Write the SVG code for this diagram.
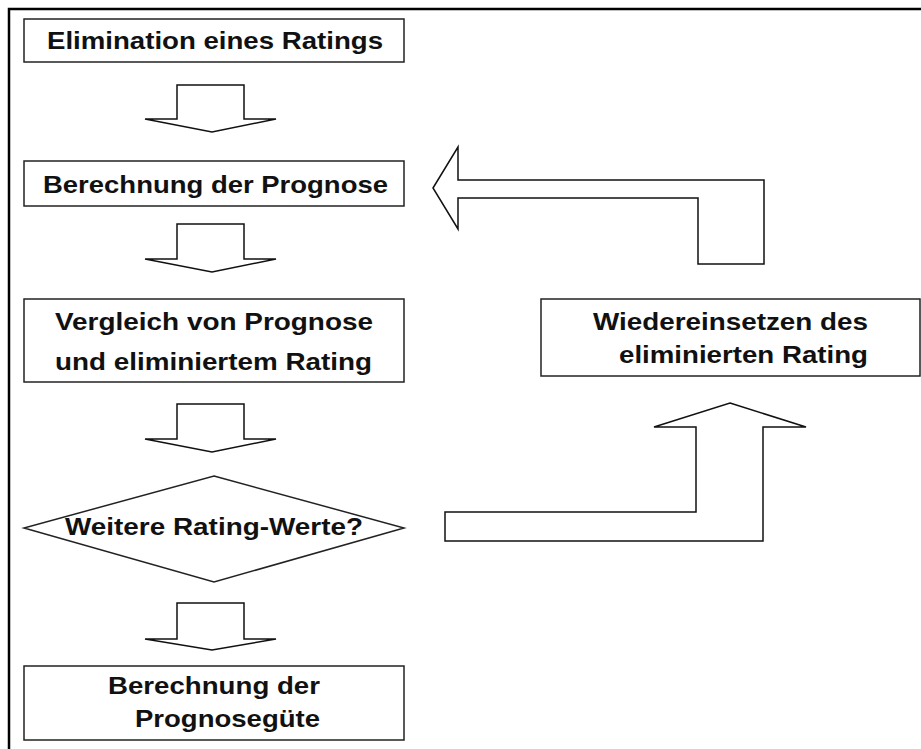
<svg xmlns="http://www.w3.org/2000/svg" width="921" height="749" viewBox="0 0 921 749">
  <style>
    .box { fill: #fff; stroke: #222; stroke-width: 1.5; }
    .arrow { fill: #fff; stroke: #111; stroke-width: 1.5; stroke-linejoin: miter; }
    .frame { stroke: #000; stroke-width: 2.5; fill: none; }
    .lbl { font-family: "Liberation Sans", Arial, sans-serif; font-weight: bold; font-size: 24.5px; fill: #111; }
  </style>
  <rect width="921" height="749" fill="#fff"/>

  <!-- outer frame -->
  <path class="frame" d="M9 749 V9 H921"/>

  <g id="n-elimination">
    <rect class="box" x="24" y="19" width="380" height="43"/>
    <text class="lbl" x="47" y="49" textLength="336" lengthAdjust="spacingAndGlyphs">Elimination eines Ratings</text>
  </g>

  <g id="n-berechnung">
    <rect class="box" x="24" y="161" width="380" height="45"/>
    <text class="lbl" x="43" y="193" textLength="345" lengthAdjust="spacingAndGlyphs">Berechnung der Prognose</text>
  </g>

  <g id="n-vergleich">
    <rect class="box" x="24" y="299" width="380" height="83"/>
    <text class="lbl" x="55" y="330" textLength="318" lengthAdjust="spacingAndGlyphs">Vergleich von Prognose</text>
    <text class="lbl" x="55" y="370" textLength="317" lengthAdjust="spacingAndGlyphs">und eliminiertem Rating</text>
  </g>

  <g id="n-weitere">
    <polygon class="box" points="214,476 404,528 214,582 24,528"/>
    <text class="lbl" x="65" y="535" textLength="298" lengthAdjust="spacingAndGlyphs">Weitere Rating-Werte?</text>
  </g>

  <g id="n-prognoseguete">
    <rect class="box" x="24" y="666" width="380" height="74"/>
    <text class="lbl" x="108" y="694" textLength="212" lengthAdjust="spacingAndGlyphs">Berechnung der</text>
    <text class="lbl" x="135" y="727" textLength="185" lengthAdjust="spacingAndGlyphs">Prognosegüte</text>
  </g>

  <g id="n-wiedereinsetzen">
    <rect class="box" x="541" y="299" width="379" height="77"/>
    <text class="lbl" x="593" y="330" textLength="275" lengthAdjust="spacingAndGlyphs">Wiedereinsetzen des</text>
    <text class="lbl" x="619" y="363" textLength="249" lengthAdjust="spacingAndGlyphs">eliminierten Rating</text>
  </g>

  <g id="connectors">
    <!-- block arrows pointing down -->
    <polygon class="arrow" points="177,85 244,85 244,119 276,119 212,132 145,119 177,119"/>
    <polygon class="arrow" points="177,224 244,224 244,259 276,259 212,272 145,259 177,259"/>
    <polygon class="arrow" points="177,404 244,404 244,439 276,439 212,452 145,439 177,439"/>
    <polygon class="arrow" points="177,603 244,603 244,639 276,639 212,650 145,639 177,639"/>
    <!-- loop: decision to re-insert -->
    <polygon class="arrow" points="730,403 806,427 763,427 763,541 445,541 445,512 696,512 696,427 654,427"/>
    <!-- loop: back to forecast -->
    <polygon class="arrow" points="433,188 458,147 458,180 764,180 764,264 698,264 698,198 458,198 458,229"/>
  </g>
</svg>
